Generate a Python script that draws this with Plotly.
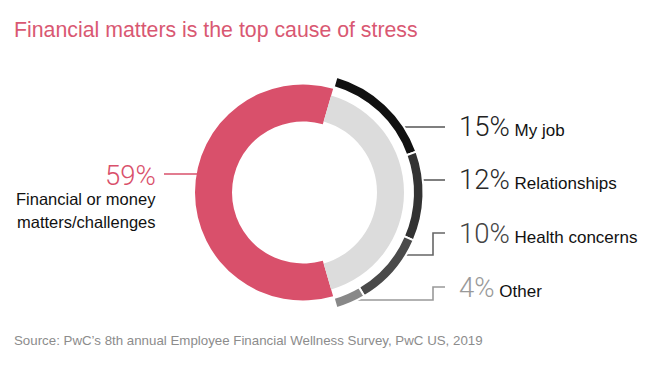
import plotly.graph_objects as go

# ---- data ----
main_labels = ["Other causes", "Financial or money matters/challenges"]
main_values = [41, 59]
cause_labels = ["My job", "Relationships", "Health concerns", "Other"]
cause_values = [15, 12, 10, 4]
title_text = "Financial matters is the top cause of stress"
source_text = "Source: PwC\u2019s 8th annual Employee Financial Wellness Survey, PwC US, 2019"

W, H = 655, 368
CX, CY = 303, 192.5
RED = "#d9506b"
TITLE_PINK = "#d95872"
GREY = "#dcdcdc"
ARC_COLORS = ["#111111", "#333333", "#4a4a4a", "#888888"]
PCT_COLORS = ["#222222", "#2a2a2a", "#444444", "#999999"]
LINE_COLORS = ["#555555", "#555555", "#666666", "#999999"]
SANS = "Liberation Sans, Arial, sans-serif"
LIGHT = "Roboto, Lato, Liberation Sans, sans-serif"

def px(x):
    return x / W

def py(y):
    return 1 - y / H

def dom(r):
    return dict(x=[px(CX - r), px(CX + r)], y=[py(CY + r), py(CY - r)])

other_share = main_values[0]
rot = 90 - other_share * 3.6 / 2

fig = go.Figure()
# red ring
fig.add_trace(go.Pie(values=main_values, labels=main_labels, hole=71 / 108, domain=dom(108),
                     sort=False, direction="clockwise", rotation=rot,
                     marker=dict(colors=["rgba(0,0,0,0)", RED], line=dict(width=0)),
                     textinfo="none", hoverinfo="label+percent", showlegend=False))
# grey ring
fig.add_trace(go.Pie(values=main_values, labels=main_labels, hole=74 / 101, domain=dom(101),
                     sort=False, direction="clockwise", rotation=rot,
                     marker=dict(colors=[GREY, "rgba(0,0,0,0)"], line=dict(width=0)),
                     textinfo="none", hoverinfo="skip", showlegend=False))
# outer breakdown arcs
fig.add_trace(go.Pie(values=cause_values + [main_values[1]], labels=cause_labels + [" "],
                     hole=110 / 120.5, domain=dom(120.5),
                     sort=False, direction="clockwise", rotation=rot,
                     marker=dict(colors=ARC_COLORS + ["rgba(0,0,0,0)"],
                                 line=dict(width=[2, 2, 2, 2, 0], color="white")),
                     textinfo="none", hoverinfo="label+value", showlegend=False))

shapes = []
annotations = []

# right-side leader lines (pixel coords)
label_y = [127, 180, 233, 287]
paths = [
    [(402, 127), (445, 127)],
    [(412, 180), (445, 180)],
    [(398, 255), (433, 255), (433, 233), (445, 233)],
    [(342, 300), (433, 300), (433, 287), (445, 287)],
]
for pts, c in zip(paths, LINE_COLORS):
    d = "M " + " L ".join(f"{px(x)} {py(y)}" for x, y in pts)
    shapes.append(dict(type="path", path=d, xref="paper", yref="paper",
                       line=dict(color=c, width=1.6), layer="below"))

for lab, val, y, pc in zip(cause_labels, cause_values, label_y, PCT_COLORS):
    annotations.append(dict(
        x=px(457), y=py(y), xref="paper", yref="paper", xanchor="left", yanchor="middle",
        showarrow=False,
        text=f"<span style='font-family:{LIGHT};font-size:27.5px;color:{pc};font-weight:300'>{val}%</span>"
             f"<span style='font-size:17px;color:#111111'> {lab}</span>",
        font=dict(family=SANS, size=17, color="#111111")))

# left label
shapes.append(dict(type="line", xref="paper", yref="paper", x0=px(164), x1=px(200),
                   y0=py(174), y1=py(174), line=dict(color=RED, width=1.6), layer="below"))
annotations.append(dict(x=px(158), y=py(175), xref="paper", yref="paper", xanchor="right",
                        yanchor="middle", showarrow=False, text=f"{main_values[1]}%",
                        font=dict(family=LIGHT, size=27.5, color=RED, weight=300)))
for t, y in zip(["Financial or money", "matters/challenges"], [199, 222]):
    annotations.append(dict(x=px(158), y=py(y), xref="paper", yref="paper", xanchor="right",
                            yanchor="middle", showarrow=False, text=t,
                            font=dict(family=SANS, size=16.5, color="#111111")))

# title & source
annotations.append(dict(x=px(12), y=py(30), xref="paper", yref="paper", xanchor="left",
                        yanchor="middle", showarrow=False, text=title_text,
                        font=dict(family=SANS, size=21.3, color=TITLE_PINK)))
annotations.append(dict(x=px(12), y=py(340), xref="paper", yref="paper", xanchor="left",
                        yanchor="middle", showarrow=False, text=source_text,
                        font=dict(family=SANS, size=13.3, color="#8c8c8c")))

fig.update_layout(width=W, height=H, margin=dict(l=0, r=0, t=0, b=0),
                  paper_bgcolor="white", plot_bgcolor="white",
                  shapes=shapes, annotations=annotations, showlegend=False)

fig.write_html("out.html", config={"displayModeBar": False},
               post_script="document.body.style.margin='0';")
